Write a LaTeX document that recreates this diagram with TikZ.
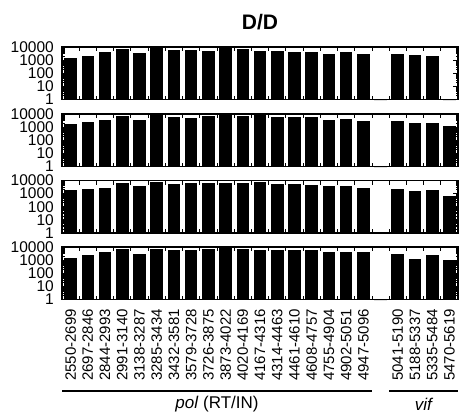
\documentclass[tikz,border=0pt]{standalone}
\usepackage{fontspec}
\setmainfont{Liberation Sans}
\begin{document}
\begin{tikzpicture}[x=1pt, y=-1pt,
	frame/.style={line width=1.3pt},
	tick/.style={line width=0.8pt},
	ylab/.style={anchor=east, inner sep=0pt, font=\fontsize{15.5}{15.5}\selectfont},
	xlab/.style={rotate=90, anchor=east, inner sep=0pt, font=\fontsize{15}{15}\selectfont},
	grp/.style={inner sep=0pt, font=\fontsize{17}{17}\selectfont}]
	\useasboundingbox (0,0) rectangle (463,420);

	\node[font=\fontsize{21}{21}\selectfont\bfseries] (title) at (260,22.5) {D/D};

	% one panel per row: top edge / log10 of the bar heights (slot 18 is the gap)
	\foreach \t/\vals [count=\p] in {
		47/{3.13,3.31,3.59,3.82,3.52,3.98,3.77,3.77,3.72,3.90,3.87,3.72,3.69,3.59,3.64,3.44,3.59,3.46,0,3.46,3.38,3.31,0},
		114/{3.25,3.38,3.55,3.87,3.55,4.0,3.75,3.70,3.83,3.92,3.83,3.92,3.80,3.75,3.80,3.57,3.62,3.45,0,3.50,3.30,3.30,3.05},
		180.5/{3.25,3.38,3.45,3.83,3.55,3.92,3.75,3.83,3.83,3.83,3.80,3.87,3.75,3.75,3.68,3.55,3.57,3.42,0,3.38,3.17,3.30,2.82},
		247/{3.16,3.37,3.62,3.82,3.44,3.88,3.75,3.80,3.82,3.92,3.88,3.80,3.80,3.80,3.80,3.62,3.62,3.62,0,3.49,3.11,3.42,2.98}} {
		\pgfmathsetmacro{\b}{\t+52.5}
		\foreach \v [count=\i from 0] in \vals
			\fill (62+17.22*\i+2.31,\b) rectangle ++(12.6,-13.125*\v);
		\foreach \k in {1,...,22} {
			\draw[tick] (62+17.22*\k,\t) -- ++(0,4);
			\draw[tick] (62+17.22*\k,\b) -- ++(0,-4);
		}
		\foreach \d/\txt in {0/1,1/10,2/100,3/1000,4/10000} {
			\draw[tick] (62,\b-13.125*\d) -- ++(5,0);
			\draw[tick] (458,\b-13.125*\d) -- ++(-5,0);
			\node[ylab] (y\p-\d) at (54,\b-13.125*\d) {\txt};
		}
		\foreach \d in {0,...,3}
			\foreach \m in {2,...,9} {
				\draw[tick] (62,{\b-13.125*(\d+ln(\m)/2.302585)}) -- ++(2.5,0);
				\draw[tick] (458,{\b-13.125*(\d+ln(\m)/2.302585)}) -- ++(-2.5,0);
			}
		\draw[frame] (62,\t) rectangle (458,\b);
	}

	% region labels under the bars
	\foreach \lab [count=\i from 0] in {2550-2699,2697-2846,2844-2993,2991-3140,3138-3287,3285-3434,3432-3581,3579-3728,3726-3875,3873-4022,4020-4169,4167-4316,4314-4463,4461-4610,4608-4757,4755-4904,4902-5051,4947-5096}
		\node[xlab] (lab\i) at (62+17.22*\i+8.61,309) {\lab};
	\foreach \lab [count=\i from 19] in {5041-5190,5188-5337,5335-5484,5470-5619}
		\node[xlab] (lab\i) at (62+17.22*\i+8.61,309) {\lab};

	\draw[frame] (62,391) -- (372,391);
	\draw[frame] (389,391) -- (458,391);
	\node[grp] (pol) at (217,404) {\textit{pol} (RT/IN)};
	\node[grp] (vif) at (424,404) {\textit{vif}};
\end{tikzpicture}
\end{document}
